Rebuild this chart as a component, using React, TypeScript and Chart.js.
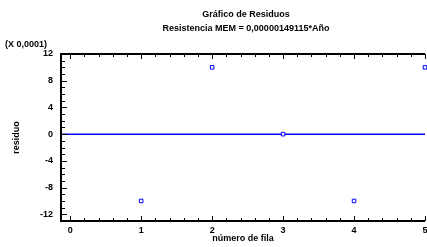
import React, { useEffect, useRef } from "react";
import { Chart, registerables } from "chart.js";

Chart.register(...registerables);

const rowNumbers = [1, 2, 3, 4, 5];
const residuals = [-10, 10, 0, -10, 10];
const xTickValues = [0, 1, 2, 3, 4, 5];
const yTickValues = [-12, -8, -4, 0, 4, 8, 12];
const titleLines = ["Gráfico de Residuos", "Resistencia MEM = 0,00000149115*Año"];
const yScaleNote = "(X 0,0001)";
const xTitle = "número de fila";
const yTitle = "residuo";

const FONT = "'Liberation Sans', Arial, sans-serif";

const framePlugin = {
  id: "frame",
  beforeDatasetsDraw(chart: any) {
    const { ctx, chartArea } = chart;
    const ys = chart.scales.y;
    const y0 = ys.getPixelForValue(0);
    ctx.save();
    ctx.strokeStyle = "#0000ff";
    ctx.lineWidth = 1.5;
    ctx.beginPath();
    ctx.moveTo(chartArea.left, y0);
    ctx.lineTo(chartArea.right, y0);
    ctx.stroke();
    ctx.restore();
  },
  afterDraw(chart: any) {
    const { ctx, chartArea } = chart;
    const xs = chart.scales.x;
    const ys = chart.scales.y;
    const { left, right, top, bottom } = chartArea;
    ctx.save();
    ctx.strokeStyle = "#000";
    ctx.lineWidth = 2;
    ctx.beginPath();
    ctx.moveTo(right, top);
    ctx.lineTo(left, top);
    ctx.lineTo(left, bottom);
    ctx.lineTo(right, bottom);
    ctx.stroke();

    ctx.lineWidth = 1;
    ctx.beginPath();
    for (let i = 0; i <= 25; i++) {
      const v = i * 0.2;
      const px = Math.round(xs.getPixelForValue(v)) + 0.5;
      const major = i % 5 === 0;
      const len = major ? 5 : 3;
      ctx.moveTo(px, bottom);
      ctx.lineTo(px, bottom - len);
      ctx.moveTo(px, top);
      ctx.lineTo(px, top + len);
    }
    for (let v = -12; v <= 12; v++) {
      const py = Math.round(ys.getPixelForValue(v)) + 0.5;
      const major = v % 4 === 0;
      const len = major ? 6 : 4;
      ctx.moveTo(left, py);
      ctx.lineTo(left + len, py);
    }
    ctx.stroke();

    ctx.fillStyle = "#000";
    ctx.font = `bold 9px ${FONT}`;
    ctx.textAlign = "center";
    ctx.textBaseline = "middle";
    const cx = 246;
    ctx.fillText(titleLines[0], cx, 15);
    ctx.fillText(titleLines[1], cx, 29);
    ctx.fillText(xTitle, 243, 239);
    ctx.textAlign = "left";
    ctx.fillText(yScaleNote, 5, 45);
    ctx.save();
    ctx.translate(17, (top + bottom) / 2);
    ctx.rotate(-Math.PI / 2);
    ctx.textAlign = "center";
    ctx.fillText(yTitle, 0, 0);
    ctx.restore();
    ctx.restore();
  },
};

export default function App() {
  const ref = useRef<HTMLCanvasElement | null>(null);
  useEffect(() => {
    if (!ref.current) return;
    const chart = new Chart(ref.current, {
      type: "scatter",
      data: {
        datasets: [
          {
            data: rowNumbers.map((x, i) => ({ x, y: residuals[i] })),
            pointStyle: "rect",
            pointRadius: 2.5,
            borderColor: "#0000ff",
            backgroundColor: "#ffffff",
            borderWidth: 1,
            clip: false,
          },
        ],
      },
      options: {
        responsive: false,
        animation: false,
        layout: { autoPadding: false, padding: { top: 54, left: 0, right: 2, bottom: 0 } },
        plugins: {
          legend: { display: false },
          tooltip: { enabled: false },
          title: { display: false },
        },
        scales: {
          x: {
            type: "linear",
            min: -0.13,
            max: 5,
            grid: { display: false, drawTicks: false },
            border: { display: false },
            afterBuildTicks: (s: any) => {
              s.ticks = xTickValues.map((v) => ({ value: v }));
            },
            afterFit: (s: any) => {
              s.height = 26;
              s.paddingLeft = 0;
              s.paddingRight = 0;
            },
            ticks: {
              padding: 4,
              autoSkip: false,
              maxRotation: 0,
              color: "#000",
              font: { family: FONT, size: 9, weight: "bold" },
              callback: (v: any) => String(v),
            },
          },
          y: {
            type: "linear",
            min: -13,
            max: 12,
            grid: { display: false, drawTicks: false },
            border: { display: false },
            afterBuildTicks: (s: any) => {
              s.ticks = yTickValues.map((v) => ({ value: v }));
            },
            afterFit: (s: any) => {
              s.width = 61;
              s.paddingTop = 0;
              s.paddingBottom = 0;
            },
            ticks: {
              padding: 8,
              autoSkip: false,
              color: "#000",
              font: { family: FONT, size: 9, weight: "bold" },
              callback: (v: any) => String(v),
            },
          },
        },
      },
      plugins: [framePlugin],
    });
    return () => chart.destroy();
  }, []);
  return (
    <div style={{ position: "absolute", left: 0, top: 0, width: 427, height: 247, background: "#fff" }}>
      <canvas ref={ref} width={427} height={247} />
    </div>
  );
}
